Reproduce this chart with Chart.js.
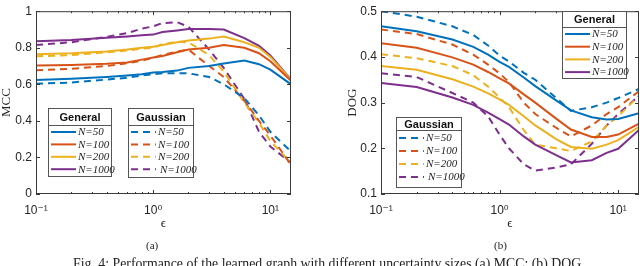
<!DOCTYPE html>
<html>
<head>
<meta charset="utf-8">
<script src="https://cdn.jsdelivr.net/npm/chart.js@4.4.1/dist/chart.umd.min.js"></script>
<style>
  body { margin: 0; background: #fff; width: 640px; height: 266px; overflow: hidden; position: relative; }
  canvas { position: absolute; top: 0; }
  .txt { position: absolute; font-family: 'Liberation Serif', 'Times New Roman', serif; color: #222; white-space: nowrap; }
</style>
</head>
<body>
<canvas id="mcc" width="320" height="266" style="left:0"></canvas>
<canvas id="dog" width="320" height="266" style="left:320px"></canvas>
<div class="txt" style="left:146px;top:238px;font-size:11px;line-height:14px">(a)</div>
<div class="txt" style="left:494px;top:238px;font-size:11px;line-height:14px">(b)</div>
<div class="txt" style="left:73px;top:257px;font-size:13.8px;line-height:14px">Fig. 4: Performance of the learned graph with different uncertainty sizes (a) MCC; (b) DOG.</div>
<script>
// uncertainty size epsilon
const eps = [0.1, 0.2, 0.4, 0.6, 0.8, 1, 1.2, 1.6, 2, 3, 4, 6, 8, 10, 15];
const sizes = ['N=50', 'N=100', 'N=200', 'N=1000'];
const colors = ['#0072BD', '#D95319', '#EDB120', '#7E2F8E'];

// (a) MCC
const mccGeneral = [
  [0.624, 0.63, 0.64, 0.648, 0.655, 0.665, 0.668, 0.675, 0.69, 0.70, 0.714, 0.73, 0.71, 0.68, 0.60],
  [0.703, 0.706, 0.712, 0.72, 0.735, 0.747, 0.755, 0.775, 0.79, 0.80, 0.815, 0.80, 0.77, 0.726, 0.62],
  [0.765, 0.77, 0.78, 0.79, 0.80, 0.806, 0.815, 0.83, 0.84, 0.85, 0.862, 0.83, 0.80, 0.75, 0.625],
  [0.836, 0.842, 0.855, 0.862, 0.868, 0.872, 0.886, 0.895, 0.903, 0.902, 0.90, 0.853, 0.81, 0.758, 0.626]
];
const mccGaussian = [
  [0.603, 0.61, 0.626, 0.636, 0.648, 0.655, 0.66, 0.66, 0.66, 0.64, 0.60, 0.524, 0.43, 0.34, 0.233],
  [0.677, 0.685, 0.70, 0.715, 0.73, 0.745, 0.76, 0.78, 0.79, 0.70, 0.64, 0.51, 0.40, 0.32, 0.16],
  [0.753, 0.76, 0.775, 0.785, 0.795, 0.80, 0.82, 0.833, 0.83, 0.76, 0.67, 0.50, 0.39, 0.29, 0.17],
  [0.815, 0.83, 0.86, 0.88, 0.905, 0.917, 0.935, 0.94, 0.915, 0.79, 0.69, 0.52, 0.34, 0.26, 0.17]
];

// (b) DOG
const dogGeneral = [
  [0.467, 0.456, 0.438, 0.422, 0.405, 0.389, 0.378, 0.355, 0.336, 0.305, 0.283, 0.268, 0.263, 0.264, 0.277],
  [0.430, 0.42, 0.399, 0.383, 0.367, 0.353, 0.342, 0.318, 0.30, 0.265, 0.241, 0.225, 0.225, 0.23, 0.254],
  [0.380, 0.372, 0.351, 0.335, 0.32, 0.307, 0.295, 0.27, 0.25, 0.22, 0.203, 0.199, 0.208, 0.218, 0.247],
  [0.343, 0.334, 0.311, 0.295, 0.278, 0.264, 0.252, 0.226, 0.208, 0.185, 0.169, 0.174, 0.19, 0.199, 0.240]
];
const dogGaussian = [
  [0.50, 0.488, 0.467, 0.448, 0.425, 0.403, 0.39, 0.365, 0.35, 0.31, 0.282, 0.29, 0.30, 0.31, 0.33],
  [0.46, 0.45, 0.427, 0.405, 0.383, 0.364, 0.345, 0.30, 0.275, 0.245, 0.226, 0.25, 0.275, 0.29, 0.325],
  [0.406, 0.397, 0.38, 0.36, 0.335, 0.311, 0.29, 0.24, 0.208, 0.2, 0.194, 0.215, 0.25, 0.27, 0.315],
  [0.364, 0.356, 0.321, 0.30, 0.27, 0.23, 0.20, 0.165, 0.151, 0.158, 0.165, 0.21, 0.25, 0.275, 0.315]
];

const xTicks = [0.1, 1, 10];
const xTickText = { 0.1: '10\u207B\u00B9', 1: '10\u2070', 10: '10\u00B9' };

const sans = "'Liberation Sans', 'DejaVu Sans', Arial, sans-serif";
const serif = "'Liberation Serif', 'DejaVu Serif', 'Times New Roman', serif";
const dash = [7, 5];

function makeDatasets(general, gaussian) {
  const ds = [];
  general.forEach((vals, i) => ds.push({
    label: 'General ' + sizes[i],
    data: vals.map((v, k) => ({ x: eps[k], y: v })),
    borderColor: colors[i], borderWidth: 2, pointRadius: 0, tension: 0, fill: false
  }));
  gaussian.forEach((vals, i) => ds.push({
    label: 'Gaussian ' + sizes[i],
    data: vals.map((v, k) => ({ x: eps[k], y: v })),
    borderColor: colors[i], borderWidth: 2, borderDash: dash, pointRadius: 0, tension: 0, fill: false
  }));
  return ds;
}

function line(ctx, x0, y0, x1, y1) {
  ctx.beginPath(); ctx.moveTo(x0, y0); ctx.lineTo(x1, y1); ctx.stroke();
}

// box round the axes with inward ticks, MATLAB style
const framePlugin = {
  id: 'frame',
  afterDatasetsDraw(chart) {
    const { ctx, chartArea: a, scales: { x, y } } = chart;
    ctx.save();
    ctx.strokeStyle = '#3a3a3a';
    ctx.lineWidth = 1;
    ctx.strokeRect(a.left + 0.5, a.top + 0.5, a.right - a.left - 1, a.bottom - a.top - 1);
    for (let d = -1; d <= 1; d++) {
      for (let m = 1; m <= 9; m++) {
        const v = m * Math.pow(10, d);
        if (v < x.min || v > x.max) continue;
        const px = Math.round(x.getPixelForValue(v)) + 0.5;
        const len = m === 1 ? 4 : 2;
        line(ctx, px, a.bottom, px, a.bottom - len);
        line(ctx, px, a.top, px, a.top + len);
      }
    }
    y.ticks.forEach(t => {
      const py = Math.round(y.getPixelForValue(t.value)) + 0.5;
      line(ctx, a.left, py, a.left + 4, py);
      line(ctx, a.right, py, a.right - 4, py);
    });
    ctx.restore();
  }
};

// two legend boxes with a title row each
const boxLegendPlugin = {
  id: 'boxLegend',
  afterDraw(chart, args, opts) {
    const ctx = chart.ctx;
    const dsets = chart.data.datasets;
    ctx.save();
    opts.boxes.forEach((b, bi) => {
      ctx.fillStyle = '#fff';
      ctx.fillRect(b.left, b.top, b.width, b.height);
      ctx.strokeStyle = '#555';
      ctx.lineWidth = 1;
      ctx.strokeRect(b.left + 0.5, b.top + 0.5, b.width, b.height);
      line(ctx, b.left, b.top + b.header + 0.5, b.left + b.width, b.top + b.header + 0.5);
      ctx.fillStyle = '#111';
      ctx.font = 'bold 11px ' + sans;
      ctx.textAlign = 'center';
      ctx.textBaseline = 'middle';
      ctx.fillText(b.title, b.left + b.width / 2 + 0.5, b.top + b.header / 2 + 1);
      for (let i = 0; i < 4; i++) {
        const d = dsets[bi * 4 + i];
        const ry = b.top + b.header + b.first + i * b.step;
        ctx.strokeStyle = d.borderColor;
        ctx.lineWidth = 2;
        ctx.setLineDash(d.borderDash || []);
        line(ctx, b.left + 3, ry, b.left + 28, ry);
        ctx.setLineDash([]);
        ctx.fillStyle = '#222';
        ctx.font = 'italic 11px ' + serif;
        ctx.textAlign = 'left';
        ctx.fillText(sizes[i], b.left + 30 + (i === 3 && bi === 1 ? 2 : 0), ry + 0.5);
      }
    });
    ctx.restore();
  }
};

function makeChart(id, general, gaussian, cfg) {
  return new Chart(document.getElementById(id), {
    type: 'line',
    data: { datasets: makeDatasets(general, gaussian) },
    options: {
      responsive: false,
      animation: false,
      layout: { autoPadding: false, padding: cfg.padding },
      plugins: {
        legend: { display: false },
        tooltip: { enabled: false },
        boxLegend: { boxes: cfg.boxes }
      },
      scales: {
        x: {
          type: 'logarithmic', min: 0.1, max: 15,
          grid: { display: false, drawTicks: false }, border: { display: false },
          afterBuildTicks: s => { s.ticks = xTicks.map(v => ({ value: v })); },
          afterFit: s => { s.height = 40; },
          ticks: {
            autoSkip: false, maxRotation: 0, padding: 9, color: '#262626',
            font: { family: sans, size: 12 },
            callback: v => xTickText[v] || ''
          },
          title: {
            display: true, text: '\u03F5', color: '#262626',
            font: { family: serif, size: 13, lineHeight: 1 },
            padding: { top: 0, bottom: 3.5 }
          }
        },
        y: {
          min: cfg.yMin, max: cfg.yMax,
          grid: { display: false, drawTicks: false }, border: { display: false },
          afterFit: s => { s.width = cfg.yWidth; },
          ticks: {
            stepSize: cfg.yStep, padding: 4, color: '#262626',
            font: { family: sans, size: 12 },
            callback: cfg.yLabel
          },
          title: {
            display: true, text: cfg.yTitle, color: '#262626',
            font: { family: serif, size: 13, lineHeight: 1 },
            padding: { top: cfg.yTitlePad, bottom: 0 }
          }
        }
      }
    },
    plugins: [framePlugin, boxLegendPlugin]
  });
}

makeChart('mcc', mccGeneral, mccGaussian, {
  padding: { top: 5, right: 29, bottom: 32, left: 0 },
  yMin: 0, yMax: 1, yStep: 0.2, yWidth: 36, yTitle: 'MCC', yTitlePad: 0,
  yLabel: v => String(Number(v.toFixed(1))),
  boxes: [
    { title: 'General', left: 48, top: 108, width: 63, height: 68, header: 17, first: 7, step: 12.4 },
    { title: 'Gaussian', left: 128, top: 108, width: 65, height: 69, header: 17, first: 7, step: 12.4 }
  ]
});

makeChart('dog', dogGeneral, dogGaussian, {
  padding: { top: 6, right: 1, bottom: 32, left: 0 },
  yMin: 0.1, yMax: 0.5, yStep: 0.1, yWidth: 61, yTitle: 'DOG', yTitlePad: 26.5,
  yLabel: v => v.toFixed(1),
  boxes: [
    { title: 'General', left: 242, top: 11, width: 64, height: 67, header: 16, first: 7, step: 12.7 },
    { title: 'Gaussian', left: 76, top: 117, width: 65, height: 70, header: 13, first: 8, step: 13 }
  ]
});
</script>
</body>
</html>
